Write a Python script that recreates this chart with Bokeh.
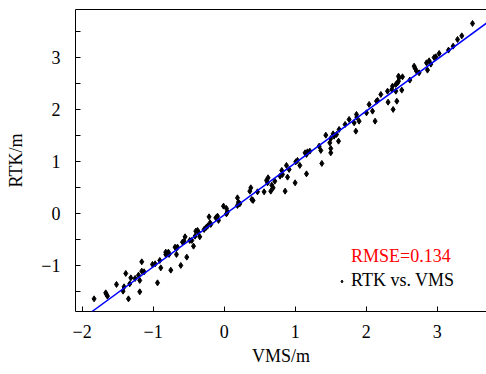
from bokeh.plotting import figure
from bokeh.models import (Range1d, FixedTicker, LinearAxis, Slope, Legend,
                          LegendItem, CustomJSTickFormatter)
from bokeh.embed import file_html
from bokeh.resources import INLINE

# ---- data ----
vms = [-1.832, -1.668, -1.644, -1.658, -1.517, -1.386, -1.348, -1.410, -1.424, -1.330,
       -1.315, -1.255, -1.207, -1.189, -1.189, -1.161, -1.128, -1.161, -1.010, -0.973,
       -0.907, -0.939, -0.893, -0.752, -0.823, -0.785, -0.823, -0.776, -0.692, -0.672,
       -0.658, -0.672, -0.611, -0.587, -0.565, -0.551, -0.527, -0.485, -0.456, -0.432,
       -0.410, -0.400, -0.376, -0.362, -0.344, -0.283, -0.259, -0.235, -0.213, -0.199,
       -0.189, -0.118, -0.094, -0.080, -0.010, 0.032, 0.046, 0.032, 0.187, 0.201,
       0.187, 0.220, 0.375, 0.361, 0.389, 0.407, 0.469, 0.562, 0.596, 0.618,
       0.610, 0.656, 0.670, 0.689, 0.713, 0.787, 0.811, 0.821, 0.858, 0.877,
       0.892, 0.914, 0.999, 1.008, 1.032, 1.065, 1.139, 1.159, 1.173, 1.206,
       1.159, 1.337, 1.375, 1.361, 1.431, 1.487, 1.501, 1.501, 1.501, 1.534,
       1.548, 1.582, 1.610, 1.618, 1.703, 1.759, 1.830, 1.854, 1.863, 1.868,
       1.900, 2.004, 2.041, 2.089, 2.125, 2.145, 2.159, 2.206, 2.300, 2.308,
       2.370, 2.361, 2.379, 2.417, 2.441, 2.455, 2.431, 2.417, 2.455, 2.463,
       2.501, 2.511, 2.614, 2.675, 2.689, 2.708, 2.745, 2.849, 2.863, 2.886,
       2.910, 2.956, 2.980, 3.027, 3.159, 3.224, 3.286, 3.346, 3.497]
rtk = [-1.640, -1.525, -1.588, -1.555, -1.363, -1.152, -1.640, -1.409, -1.492, -1.352,
       -1.237, -1.248, -1.185, -1.286, -1.505, -1.108, -1.121, -0.929, -0.979, -0.968,
       -0.902, -1.333, -1.045, -1.089, -0.743, -0.743, -0.787, -0.787, -0.647, -0.672,
       -0.647, -0.787, -0.998, -0.551, -0.532, -0.449, -0.839, -0.518, -0.518, -0.628,
       -0.436, -0.340, -0.326, -0.359, -0.449, -0.307, -0.276, -0.244, -0.065, -0.180,
       -0.211, -0.084, -0.052, -0.134, 0.140, 0.096, 0.031, -0.008, 0.300, 0.217,
       0.154, 0.184, 0.492, 0.428, 0.269, 0.250, 0.415, 0.415, 0.634, 0.684,
       0.588, 0.428, 0.543, 0.492, 0.620, 0.716, 0.826, 0.749, 0.428, 0.922,
       0.697, 0.845, 0.588, 0.991, 1.018, 0.922, 1.164, 0.760, 1.183, 1.196,
       1.133, 1.292, 0.960, 1.210, 1.503, 1.356, 1.440, 1.248, 1.164, 1.528,
       1.484, 1.517, 1.388, 1.613, 1.709, 1.805, 1.740, 1.580, 1.901, 1.849,
       1.772, 1.932, 2.093, 1.964, 1.772, 2.156, 2.170, 2.285, 2.348, 2.137,
       2.444, 2.381, 1.997, 2.477, 2.508, 2.540, 2.156, 2.348, 2.636, 2.604,
       2.368, 2.623, 2.560, 2.828, 2.784, 2.732, 2.700, 2.892, 2.752, 2.930,
       2.867, 2.995, 3.007, 3.072, 3.136, 3.212, 3.341, 3.410, 3.648]
fit_slope = 0.997
fit_intercept = -0.028
rmse_label = "RMSE=0.134"
series_label = "RTK vs. VMS"
x_ticks = [-2, -1, 0, 1, 2, 3]
y_ticks = [-1, 0, 1, 2, 3]
y_minor_ticks = [-1.5, -0.5, 0.5, 1.5, 2.5, 3.5]
x_title = "VMS/m"
y_title = "RTK/m"

FONT = "Liberation Serif"
FS = "18px"

p = figure(width=486, height=374, output_backend="svg", toolbar_location=None,
           x_range=Range1d(-2.094, 3.694), y_range=Range1d(-1.883, 3.916),
           x_axis_label=x_title, y_axis_label=y_title,
           min_border_left=75, min_border_right=0, min_border_top=9,
           min_border_bottom=63)
p.outline_line_color = None
p.xgrid.visible = False
p.ygrid.visible = False
p.background_fill_color = "white"
p.border_fill_color = "white"

fmt = CustomJSTickFormatter(code="return tick < 0 ? '\u2212' + (-tick).toString() : tick.toString();")

for ax in (p.xaxis[0], p.yaxis[0]):
    ax.formatter = fmt
    ax.major_label_text_font = FONT
    ax.major_label_text_font_size = FS
    ax.major_label_text_color = "black"
    ax.axis_label_text_font = FONT
    ax.axis_label_text_font_size = FS
    ax.axis_label_text_font_style = "normal"
    ax.axis_label_text_color = "black"
    ax.axis_line_color = "black"
    ax.axis_line_width = 1
    ax.major_tick_line_color = "black"
    ax.major_tick_in = 5
    ax.major_tick_out = 0
    ax.minor_tick_in = 5
    ax.minor_tick_out = 0
    ax.minor_tick_line_color = "black"

p.xaxis[0].ticker = FixedTicker(ticks=x_ticks)
p.xaxis[0].minor_tick_line_color = None
p.xaxis[0].major_label_standoff = 13
p.xaxis[0].axis_label_standoff = 5
p.yaxis[0].ticker = FixedTicker(ticks=y_ticks, minor_ticks=y_minor_ticks)
p.yaxis[0].major_label_standoff = 15
p.yaxis[0].axis_label_standoff = 12

top = LinearAxis(ticker=FixedTicker(ticks=[]), major_label_text_font_size="0px",
                 major_tick_line_color=None, minor_tick_line_color=None,
                 axis_line_color="black", major_label_standoff=0,
                 major_tick_in=0, major_tick_out=0)
p.add_layout(top, "above")

p.add_layout(Slope(gradient=fit_slope, y_intercept=fit_intercept,
                   line_color="#0000ff", line_width=1.5))

pts = p.scatter(vms, rtk, marker="diamond", size=6, fill_color="black",
                line_color="black", line_width=1)

dummy_none = p.scatter([], [], marker="diamond", size=3, fill_alpha=0, line_alpha=0)

common = dict(glyph_width=7, glyph_height=20, label_height=20, label_standoff=6,
              padding=0, margin=0, spacing=0, border_line_color=None,
              background_fill_alpha=0, label_text_font=FONT,
              label_text_font_size=FS)
leg1 = Legend(items=[LegendItem(label=rmse_label, renderers=[dummy_none])],
              location=(263, 44), label_text_color="#ff0000", **common)
leg2 = Legend(items=[LegendItem(label=series_label, renderers=[pts])],
              location=(263, 20), label_text_color="black", **common)
p.add_layout(leg1)
p.add_layout(leg2)

open("out.html", "w").write(file_html(p, INLINE))
